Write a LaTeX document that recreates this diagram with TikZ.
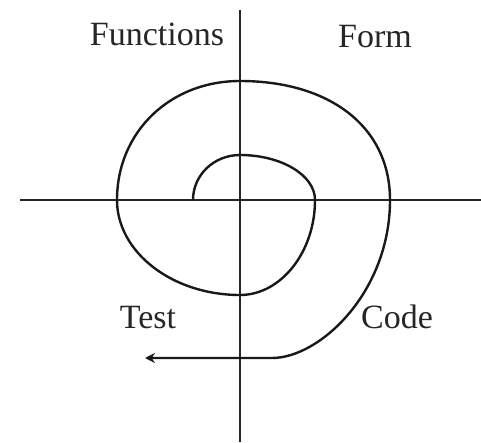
\documentclass[tikz,border=0pt]{standalone}
\usepackage{fontspec}
\setmainfont{Liberation Serif}
\usetikzlibrary{arrows.meta}
\begin{document}
\begin{tikzpicture}[x=1pt,y=1pt,
  axis/.style={line width=2pt,black!85},
  spiral/.style={line width=2.4pt,black!90},
  lbl/.style={font=\fontsize{34}{36}\selectfont,text=black!85,inner sep=0pt,anchor=base}]
\useasboundingbox (0,0) rectangle (481,442);
% axes
\coordinate (vt) at (240,432);
\coordinate (vb) at (240,0);
\coordinate (hl) at (20,242);
\coordinate (hr) at (481,242);
\draw[axis] (vt) -- (vb);
\draw[axis] (hl) -- (hr);
% spiral
\coordinate (s0) at (193,242);
\coordinate (s1) at (240,287);
\coordinate (s2) at (315,242);
\coordinate (s3) at (240,147);
\coordinate (s4) at (117,242);
\coordinate (s5) at (240,361);
\coordinate (s6) at (390,242);
\coordinate (s7) at (272,84);
\coordinate (tip) at (145,84);
\draw[spiral,-{Stealth[length=10pt,width=10pt]}]
  (s0) .. controls (193,267) and (214,287) .. (s1)
       .. controls (281,287) and (315,267) .. (s2)
       .. controls (315,190) and (281,147) .. (s3)
       .. controls (172,147) and (117,190) .. (s4)
       .. controls (117,310) and (170,361) .. (s5)
       .. controls (330,361) and (390,315) .. (s6)
       .. controls (390,150) and (320,84) .. (s7)
       -- (tip);
% labels
\node[lbl] (functions) at (157,396) {Functions};
\node[lbl] (form) at (375,394) {Form};
\node[lbl] (test) at (148,114) {Test};
\node[lbl] (code) at (397,114) {Code};
\end{tikzpicture}
\end{document}
